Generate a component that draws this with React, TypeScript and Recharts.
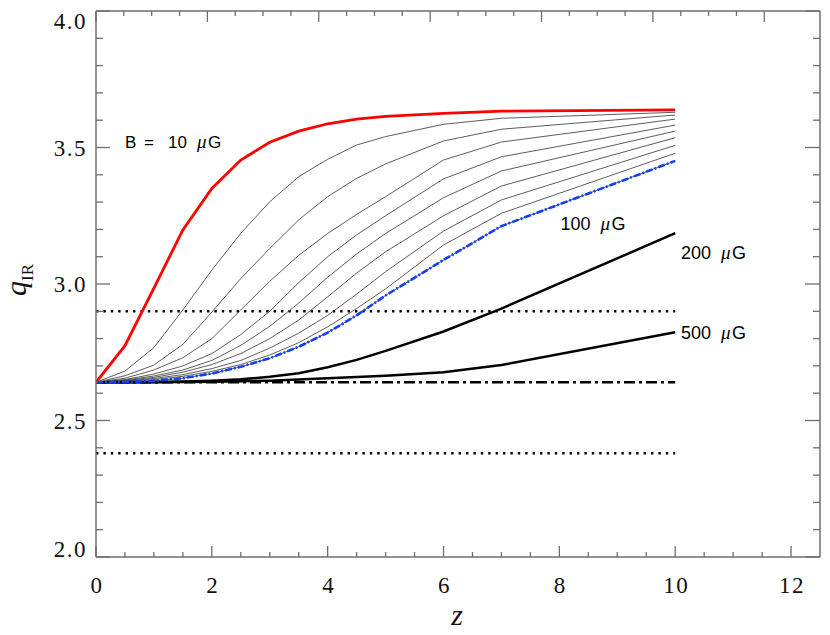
import { LineChart, Line, XAxis, YAxis, ReferenceLine, ReferenceDot } from 'recharts';

// redshift grid of the model curves
const Z = [0, 0.5, 1, 1.5, 2, 2.5, 3, 3.5, 4, 4.5, 5, 6, 7, 10];

// q_IR for each magnetic field strength
const B10 = [2.64, 2.774, 2.985, 3.198, 3.35, 3.454, 3.519, 3.56, 3.587, 3.604, 3.614, 3.625, 3.633, 3.638];
const B20 = [2.64, 2.681, 2.767, 2.905, 3.051, 3.186, 3.301, 3.393, 3.457, 3.509, 3.54, 3.585, 3.607, 3.629];
const B30 = [2.64, 2.664, 2.703, 2.779, 2.897, 3.02, 3.13, 3.235, 3.32, 3.387, 3.44, 3.524, 3.567, 3.619];
const B40 = [2.64, 2.655, 2.685, 2.73, 2.8, 2.905, 3.01, 3.105, 3.185, 3.255, 3.32, 3.454, 3.52, 3.604];
const B50 = [2.64, 2.65, 2.67, 2.7, 2.745, 2.815, 2.9, 3.005, 3.1, 3.18, 3.25, 3.385, 3.466, 3.582];
const B60 = [2.64, 2.648, 2.663, 2.685, 2.72, 2.775, 2.845, 2.93, 3.025, 3.11, 3.185, 3.316, 3.414, 3.56];
const B70 = [2.64, 2.646, 2.658, 2.677, 2.705, 2.745, 2.8, 2.868, 2.953, 3.04, 3.118, 3.25, 3.359, 3.536];
const B80 = [2.64, 2.644, 2.654, 2.668, 2.69, 2.72, 2.765, 2.82, 2.885, 2.963, 3.045, 3.194, 3.308, 3.508];
const B90 = [2.64, 2.643, 2.65, 2.662, 2.68, 2.705, 2.74, 2.785, 2.843, 2.91, 2.982, 3.143, 3.259, 3.479];
const B100 = [2.64, 2.641, 2.645, 2.655, 2.672, 2.697, 2.728, 2.77, 2.822, 2.885, 2.958, 3.088, 3.212, 3.451];
const B200 = [2.64, 2.64, 2.641, 2.643, 2.646, 2.651, 2.66, 2.673, 2.695, 2.722, 2.755, 2.826, 2.91, 3.186];
const B500 = [2.64, 2.64, 2.64, 2.641, 2.642, 2.644, 2.646, 2.65, 2.655, 2.659, 2.664, 2.677, 2.703, 2.823];

// horizontal reference levels
const Q_LOCAL = 2.64;
const Q_UPPER = 2.9;
const Q_LOWER = 2.38;
const Z_END = 10;

const X_TICKS = [0, 0.5, 1, 1.5, 2, 2.5, 3, 3.5, 4, 4.5, 5, 5.5, 6, 6.5, 7, 7.5, 8, 8.5, 9, 9.5, 10, 10.5, 11, 11.5, 12];
const Y_TICKS = [2.0, 2.1, 2.2, 2.3, 2.4, 2.5, 2.6, 2.7, 2.8, 2.9, 3.0, 3.1, 3.2, 3.3, 3.4, 3.5, 3.6, 3.7, 3.8, 3.9, 4.0];

const THIN = [
  { key: 'b20', values: B20 },
  { key: 'b30', values: B30 },
  { key: 'b40', values: B40 },
  { key: 'b50', values: B50 },
  { key: 'b60', values: B60 },
  { key: 'b70', values: B70 },
  { key: 'b80', values: B80 },
  { key: 'b90', values: B90 },
];

const chartData = Z.map((z, i) => {
  const row: Record<string, number> = { z, b10: B10[i], b100: B100[i], b200: B200[i], b500: B500[i] };
  THIN.forEach((s) => {
    row[s.key] = s.values[i];
  });
  return row;
});

const AXIS = '#6e6e6e';
const SERIF = '"Liberation Serif", "DejaVu Serif", serif';
const SANS = '"Liberation Sans", "DejaVu Sans", sans-serif';

const isMajorY = (v: number) => Math.abs(v * 2 - Math.round(v * 2)) < 1e-6;
const isMajorX = (v: number) => Math.abs(v / 2 - Math.round(v / 2)) < 1e-6;

function LeftTick({ x, y, payload }: any) {
  const v = payload.value;
  const major = isMajorY(v);
  let ly = y;
  if (v > 3.99) ly = y + 10;
  if (v < 2.01) ly = y - 8;
  return (
    <g>
      <line x1={x} y1={y} x2={x + (major ? 14 : 7)} y2={y} stroke={AXIS} strokeWidth={1.3} />
      {major && (
        <text x={x - 9} y={ly} dy="0.36em" textAnchor="end" fontFamily={SERIF} fontSize={23} letterSpacing={1.5} fill="#111">
          {v.toFixed(1)}
        </text>
      )}
    </g>
  );
}

function RightTick({ x, y, payload }: any) {
  const major = isMajorY(payload.value);
  return <line x1={x} y1={y} x2={x - (major ? 15 : 7)} y2={y} stroke={AXIS} strokeWidth={1.3} />;
}

function BottomTick({ x, y, payload }: any) {
  const v = payload.value;
  const major = isMajorX(v);
  return (
    <g>
      <line x1={x} y1={y} x2={x} y2={y - (major ? 11 : 5)} stroke={AXIS} strokeWidth={1.3} />
      {major && (
        <text x={x + 1} y={y + 36} textAnchor="middle" fontFamily={SERIF} fontSize={23} letterSpacing={1.5} fill="#111">
          {v}
        </text>
      )}
    </g>
  );
}

function TopTick({ x, y, payload }: any) {
  const major = isMajorX(payload.value);
  return <line x1={x} y1={y} x2={x} y2={y + (major ? 11 : 5)} stroke={AXIS} strokeWidth={1.3} />;
}

function FieldLabel({ viewBox, prefix }: any) {
  const x0 = viewBox.x + viewBox.width / 2;
  const y0 = viewBox.y + viewBox.height / 2;
  if (prefix === 'B') {
    return (
      <text y={y0} fontFamily={SANS} fontSize={17} fill="#000">
        <tspan x={x0}>B</tspan>
        <tspan x={x0 + 19}>=</tspan>
        <tspan x={x0 + 43}>10</tspan>
        <tspan x={x0 + 72} fontFamily={SERIF} fontStyle="italic" fontSize={19}>μ</tspan>
        <tspan x={x0 + 83}>G</tspan>
      </text>
    );
  }
  return (
    <text y={y0} fontFamily={SANS} fontSize={18} fill="#000">
      <tspan x={x0}>{prefix}</tspan>
      <tspan x={x0 + 40} fontFamily={SERIF} fontStyle="italic" fontSize={19}>μ</tspan>
      <tspan x={x0 + 51}>G</tspan>
    </text>
  );
}

function YTitle() {
  return (
    <text x={26} y={280} transform="rotate(-90, 26, 280)" textAnchor="middle" fontFamily={SERIF} fill="#111">
      <tspan fontStyle="italic" fontSize={30}>q</tspan>
      <tspan fontSize={17} dy={7}>IR</tspan>
    </text>
  );
}

function XTitle() {
  return (
    <text x={457} y={625} textAnchor="middle" fontFamily={SERIF} fontStyle="italic" fontSize={30} fill="#111">
      z
    </text>
  );
}

const labels = [
  { z: 0.5, q: 3.497, text: 'B' },
  { z: 8.02, q: 3.198, text: '100' },
  { z: 10.1, q: 3.09, text: '200' },
  { z: 10.1, q: 2.8, text: '500' },
];

export default function App() {
  return (
    <div style={{ position: 'absolute', left: 0, top: 0, background: '#fff' }}>
      <LineChart width={830} height={635} data={chartData} margin={{ top: 10, right: 9, bottom: 38, left: 36 }}>
        <XAxis
          xAxisId="b"
          dataKey="z"
          type="number"
          domain={[0, 12.5]}
          ticks={X_TICKS}
          interval={0}
          allowDataOverflow
          height={40}
          tickSize={0}
          tickMargin={0}
          tickLine={false}
          tick={<BottomTick />}
          axisLine={{ stroke: AXIS, strokeWidth: 1.5 }}
          label={{ content: () => <XTitle /> }}
        />
        <XAxis
          xAxisId="t"
          orientation="top"
          type="number"
          domain={[0, 12.5]}
          ticks={X_TICKS}
          interval={0}
          allowDataOverflow
          height={1}
          tickSize={0}
          tickMargin={0}
          tickLine={false}
          tick={<TopTick />}
          axisLine={{ stroke: AXIS, strokeWidth: 1.5 }}
        />
        <YAxis
          yAxisId="l"
          type="number"
          domain={[2, 4]}
          ticks={Y_TICKS}
          interval={0}
          allowDataOverflow
          width={60}
          tickSize={0}
          tickMargin={0}
          tickLine={false}
          tick={<LeftTick />}
          axisLine={{ stroke: AXIS, strokeWidth: 1.5 }}
          label={{ content: () => <YTitle /> }}
        />
        <YAxis
          yAxisId="r"
          orientation="right"
          type="number"
          domain={[2, 4]}
          ticks={Y_TICKS}
          interval={0}
          allowDataOverflow
          width={1}
          tickSize={0}
          tickMargin={0}
          tickLine={false}
          tick={<RightTick />}
          axisLine={{ stroke: AXIS, strokeWidth: 1.5 }}
        />

        <ReferenceLine
          xAxisId="b"
          yAxisId="l"
          segment={[{ x: 0, y: Q_UPPER }, { x: Z_END, y: Q_UPPER }]}
          stroke="#000"
          strokeWidth={2.4}
          strokeDasharray="2.4 5"
        />
        <ReferenceLine
          xAxisId="b"
          yAxisId="l"
          segment={[{ x: 0, y: Q_LOWER }, { x: Z_END, y: Q_LOWER }]}
          stroke="#000"
          strokeWidth={2.4}
          strokeDasharray="2.4 5"
        />
        <ReferenceLine
          xAxisId="b"
          yAxisId="l"
          segment={[{ x: 0, y: Q_LOCAL }, { x: Z_END, y: Q_LOCAL }]}
          stroke="#000"
          strokeWidth={2.4}
          strokeDasharray="11 4 3 4"
        />

        {THIN.map((s) => (
          <Line
            key={s.key}
            xAxisId="b"
            yAxisId="l"
            type="linear"
            dataKey={s.key}
            stroke="#333"
            strokeWidth={0.8}
            dot={false}
            isAnimationActive={false}
          />
        ))}
        <Line xAxisId="b" yAxisId="l" type="linear" dataKey="b100" stroke="#333" strokeWidth={0.8} dot={false} isAnimationActive={false} />
        <Line xAxisId="b" yAxisId="l" type="linear" dataKey="b500" stroke="#000" strokeWidth={2.5} dot={false} isAnimationActive={false} />
        <Line xAxisId="b" yAxisId="l" type="linear" dataKey="b200" stroke="#000" strokeWidth={2.5} dot={false} isAnimationActive={false} />
        <Line
          xAxisId="b"
          yAxisId="l"
          type="linear"
          dataKey="b100"
          stroke="#1040ff"
          strokeWidth={2.6}
          strokeDasharray="7 2 2 2"
          dot={false}
          isAnimationActive={false}
        />
        <Line xAxisId="b" yAxisId="l" type="linear" dataKey="b10" stroke="#ff0000" strokeWidth={2.8} dot={false} isAnimationActive={false} />

        {labels.map((l) => (
          <ReferenceDot
            key={l.text}
            xAxisId="b"
            yAxisId="l"
            x={l.z}
            y={l.q}
            r={0}
            fill="none"
            stroke="none"
            label={{ content: (p: any) => <FieldLabel {...p} prefix={l.text} /> }}
          />
        ))}
      </LineChart>
    </div>
  );
}
